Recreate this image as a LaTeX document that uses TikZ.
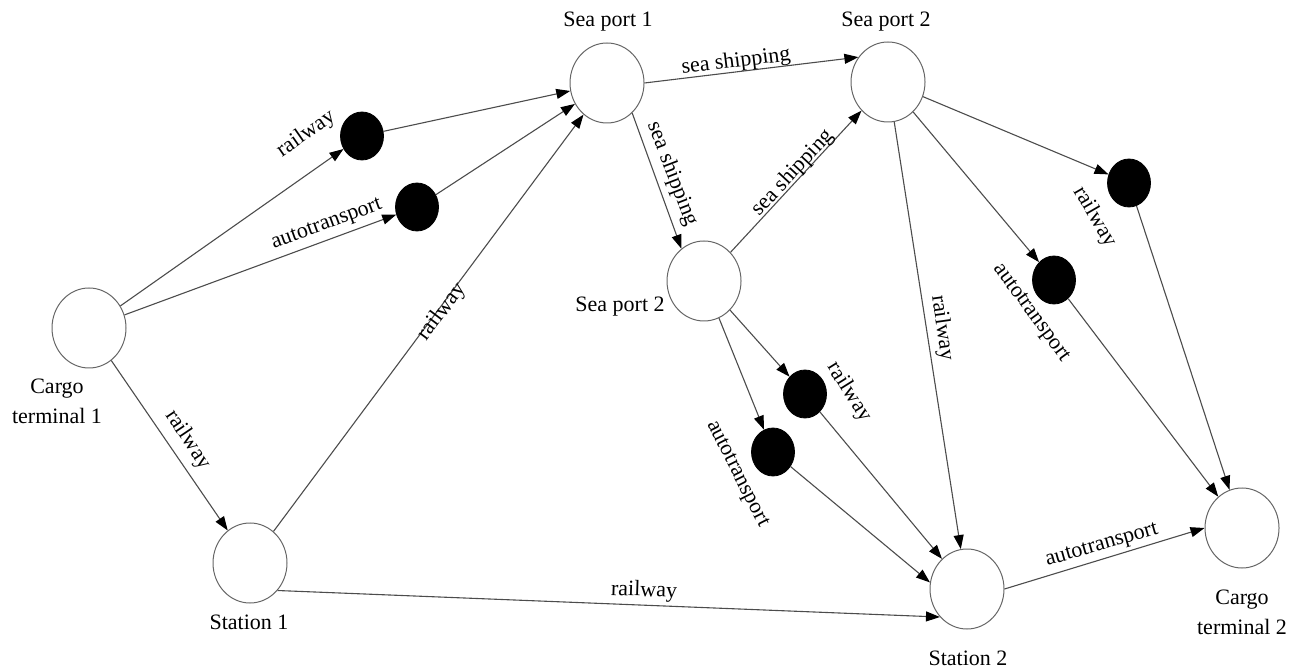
\documentclass[tikz,border=0pt]{standalone}
\usepackage{fontspec}
\setmainfont{Liberation Serif}
\usetikzlibrary{arrows.meta,shapes.geometric}
\tikzset{
  port/.style={ellipse, draw=black!60, line width=0.5pt, minimum width=37pt, minimum height=40pt, inner sep=0pt},
  hub/.style={ellipse, fill=black, draw=black, minimum width=21.5pt, minimum height=24pt, inner sep=0pt},
  link/.style={draw=black!70, line width=0.55pt, -{Triangle[length=7pt,width=5pt,color=black]}},
  lbl/.style={font=\fontsize{11}{15}\selectfont, inner sep=0pt, align=center},
}
\begin{document}
\begin{tikzpicture}[x=0.5pt,y=-0.5pt]
\useasboundingbox (0,0) rectangle (1293,672);
% main nodes
\node[port] (ct1) at (89,328) {};
\node[port] (st1) at (250,563) {};
\node[port] (sp1) at (607,83) {};
\node[port] (sp2t) at (888,82) {};
\node[port] (sp2m) at (704,281) {};
\node[port] (st2) at (967,589) {};
\node[port] (ct2) at (1242,528) {};
% intermediate dots
\node[hub] (d1) at (362,136) {};
\node[hub] (d2) at (417,207) {};
\node[hub] (d3) at (1129,183) {};
\node[hub] (d4) at (1054,280) {};
\node[hub] (d5) at (805,394) {};
\node[hub] (d6) at (773,452) {};
% node names
\node[lbl] (ct1l) at (57,401) {Cargo\\terminal 1};
\node[lbl] (st1l) at (249,622) {Station 1};
\node[lbl] (sp1l) at (608,22) {Sea port 1};
\node[lbl] (sp2tl) at (886,22) {Sea port 2};
\node[lbl] (sp2ml) at (620,307) {Sea port 2};
\node[lbl] (st2l) at (968,658) {Station 2};
\node[lbl] (ct2l) at (1242,612) {Cargo\\terminal 2};
% connectors
\draw[link] (ct1) -- (d1);
\draw[link] (d1) -- (sp1);
\draw[link] (ct1) -- (d2);
\draw[link] (d2) -- (sp1);
\draw[link] (ct1) -- (st1);
\draw[link] (st1) -- (sp1);
\draw[link] (st1.-45) -- (st2.226);
\draw[link] (sp1.east) -- (sp2t.140);
\draw[link] (sp1.-50) -- (sp2m.125);
\draw[link] (sp2m) -- (sp2t);
\draw[link] (sp2t) -- (d3);
\draw[link] (d3) -- (ct2);
\draw[link] (sp2t) -- (d4);
\draw[link] (d4) -- (ct2);
\draw[link] (sp2t) -- (st2);
\draw[link] (sp2m) -- (d5);
\draw[link] (d5) -- (st2);
\draw[link] (sp2m) -- (d6);
\draw[link] (d6) -- (st2.170);
\draw[link] (st2.east) -- (ct2.west);
% edge labels
\node[lbl, rotate=35] (l1) at (306,134) {railway};
\node[lbl, rotate=20] (l2) at (327,225) {autotransport};
\node[lbl, rotate=-56] (l3) at (188,440) {railway};
\node[lbl, rotate=53] (l4) at (442,312) {railway};
\node[lbl, rotate=-2] (l5) at (644,591) {railway};
\node[lbl, rotate=7] (l6) at (736,62) {sea shipping};
\node[lbl, rotate=-69] (l7) at (672,174) {sea shipping};
\node[lbl, rotate=47] (l8) at (793,173) {sea shipping};
\node[lbl, rotate=-82] (l9) at (942,328) {railway};
\node[lbl, rotate=-60] (l10) at (1095,217) {railway};
\node[lbl, rotate=-54] (l11) at (1031,313) {autotransport};
\node[lbl, rotate=-58] (l12) at (849,392) {railway};
\node[lbl, rotate=-63] (l13) at (737,474) {autotransport};
\node[lbl, rotate=16] (l14) at (1102,546) {autotransport};
\end{tikzpicture}
\end{document}
